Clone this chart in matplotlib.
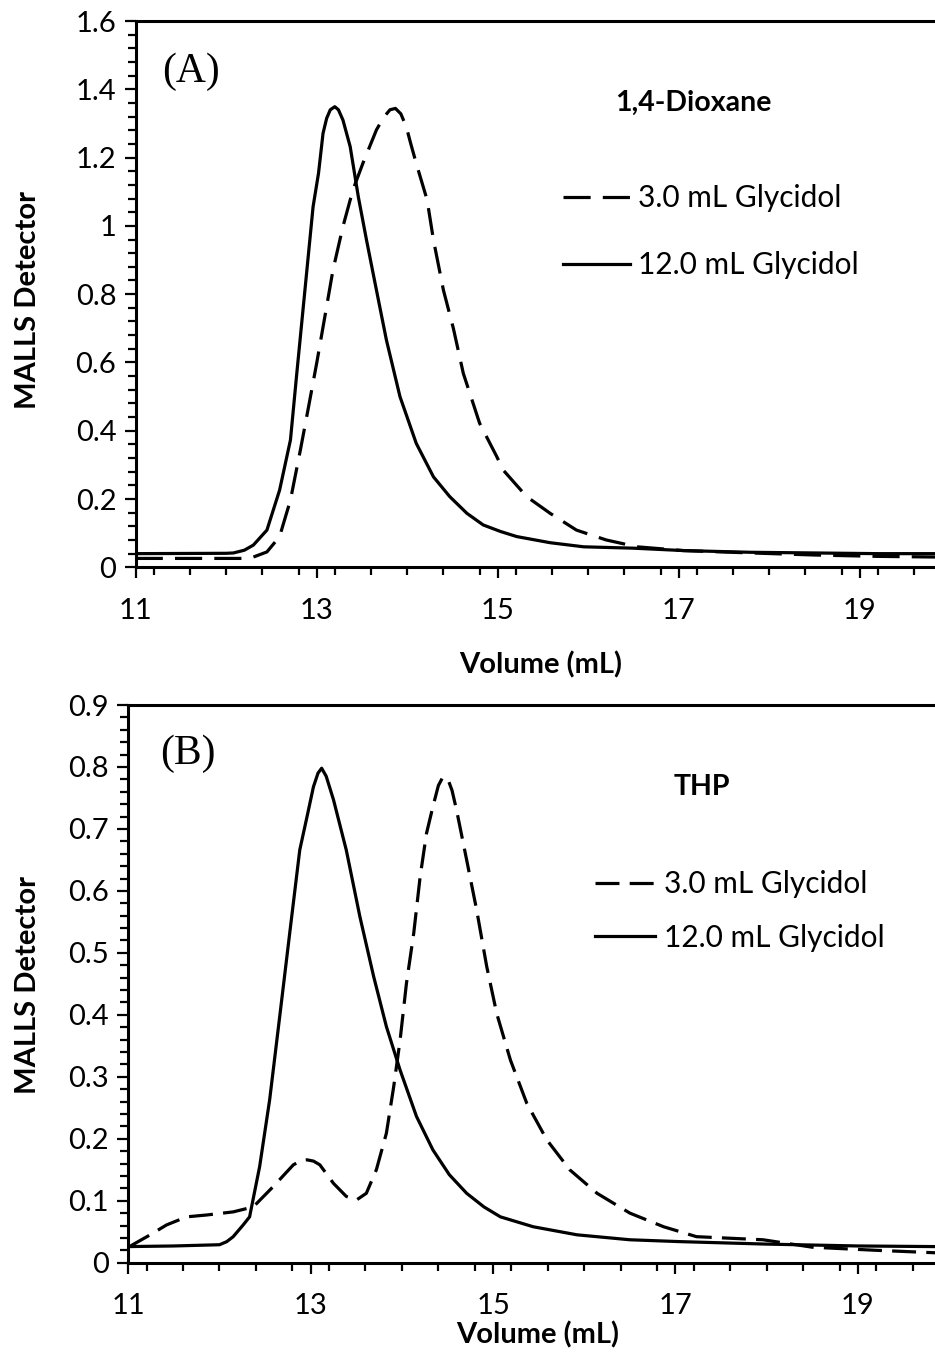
import matplotlib
matplotlib.use("Agg")
import matplotlib.pyplot as plt
from matplotlib.ticker import MultipleLocator

# ---------------- data ----------------
# Panel A (1,4-Dioxane)
a_solid_x = [11.0, 12.0, 12.08, 12.2, 12.3, 12.45, 12.59, 12.71, 12.78, 12.87, 12.96, 13.02, 13.07, 13.11, 13.15,
             13.2, 13.24, 13.29, 13.37, 13.46, 13.55, 13.66, 13.77, 13.92, 14.10, 14.29, 14.47, 14.66, 14.84,
             15.03, 15.21, 15.58, 15.95, 16.5, 17.05, 17.79, 18.5, 19.2, 19.85]
a_solid_y = [0.040, 0.041, 0.042, 0.050, 0.065, 0.109, 0.226, 0.373, 0.568, 0.812, 1.056, 1.154, 1.271, 1.315, 1.34,
             1.349, 1.34, 1.31, 1.232, 1.085, 0.959, 0.812, 0.666, 0.50, 0.363, 0.265, 0.207, 0.158, 0.124,
             0.105, 0.090, 0.072, 0.060, 0.056, 0.049, 0.044, 0.042, 0.040, 0.040]
a_dash_x = [11.0, 12.2, 12.3, 12.45, 12.59, 12.71, 12.82, 12.91, 13.0, 13.09, 13.18, 13.29, 13.40, 13.51, 13.66,
            13.74, 13.81, 13.87, 13.93, 13.99, 14.04, 14.10, 14.22, 14.29, 14.40, 14.51, 14.62, 14.80, 14.99,
            15.06, 15.32, 15.58, 15.87, 16.20, 16.54, 17.05, 17.8, 18.5, 19.2, 19.85]
a_dash_y = [0.026, 0.026, 0.030, 0.045, 0.090, 0.197, 0.344, 0.470, 0.598, 0.734, 0.871, 0.998, 1.105, 1.183, 1.281,
            1.318, 1.34, 1.344, 1.328, 1.29, 1.24, 1.183, 1.076, 0.959, 0.812, 0.700, 0.568, 0.422, 0.324,
            0.285, 0.207, 0.158, 0.109, 0.080, 0.060, 0.049, 0.042, 0.036, 0.032, 0.030]

# Panel B (THP)
b_solid_x = [11.0, 11.5, 12.0, 12.08, 12.15, 12.26, 12.33, 12.44, 12.55, 12.66, 12.77, 12.88, 12.96, 13.03, 13.08,
             13.12, 13.17, 13.25, 13.39, 13.54, 13.69, 13.83, 13.98, 14.16, 14.34, 14.52, 14.71, 14.9, 15.08,
             15.44, 15.92, 16.5, 17.05, 18.0, 19.0, 19.85]
b_solid_y = [0.026, 0.027, 0.029, 0.034, 0.042, 0.061, 0.074, 0.155, 0.263, 0.397, 0.532, 0.666, 0.72, 0.768, 0.79,
             0.798, 0.785, 0.747, 0.666, 0.558, 0.462, 0.381, 0.311, 0.236, 0.182, 0.142, 0.112, 0.090, 0.074,
             0.058, 0.045, 0.037, 0.034, 0.030, 0.027, 0.026]
b_dash_x = [11.0, 11.24, 11.42, 11.64, 11.86, 12.15, 12.37, 12.59, 12.81, 12.90, 12.96, 13.03, 13.10, 13.25, 13.39,
            13.50, 13.61, 13.72, 13.83, 13.91, 13.98, 14.05, 14.13, 14.20, 14.27, 14.34, 14.40, 14.45, 14.51,
            14.55, 14.60, 14.71, 14.82, 14.93, 15.04, 15.19, 15.37, 15.59, 15.84, 16.14, 16.50, 16.87, 17.23,
            17.96, 18.5, 19.2, 19.85]
b_dash_y = [0.025, 0.045, 0.061, 0.074, 0.077, 0.082, 0.090, 0.123, 0.158, 0.165, 0.166, 0.164, 0.158, 0.128, 0.107,
            0.101, 0.112, 0.150, 0.209, 0.284, 0.359, 0.451, 0.532, 0.623, 0.693, 0.736, 0.770, 0.784, 0.778,
            0.762, 0.730, 0.650, 0.569, 0.478, 0.402, 0.327, 0.257, 0.198, 0.150, 0.112, 0.080, 0.058, 0.042,
            0.037, 0.025, 0.020, 0.016]

series_labels = ["3.0 mL Glycidol", "12.0 mL Glycidol"]
x_ticks = [11, 13, 15, 17, 19]
panel_tags = ["(A)", "(B)"]
solvents = ["1,4-Dioxane", "THP"]
x_label = "Volume (mL)"
y_label = "MALLS Detector"

# ---------------- style ----------------
SANS = ["Lato", "DejaVu Sans"]
SERIF = ["Liberation Serif", "DejaVu Serif"]
FS = 21
W, H = 935, 1355
fig = plt.figure(figsize=(W / 100, H / 100), dpi=100)


def px_axes(left, right, bottom, top):
    return [left / W, 1 - bottom / H, (right - left) / W, (bottom - top) / H]


def style_axes(ax, ymax, ymajor, yminor):
    ax.set_ylim(0, ymax)
    ax.set_xticks(x_ticks)
    ax.xaxis.set_minor_locator(MultipleLocator(0.4))
    ax.yaxis.set_major_locator(MultipleLocator(ymajor))
    ax.yaxis.set_minor_locator(MultipleLocator(yminor))
    ax.spines["right"].set_visible(False)
    for s in ("left", "bottom", "top"):
        ax.spines[s].set_linewidth(2.2)
    ax.tick_params(which="major", direction="out", length=8, width=1.6, labelsize=FS, pad=6)
    ax.tick_params(which="minor", direction="out", length=5.5, width=1.6)
    ax.tick_params(axis="x", which="major", pad=14)
    ax.tick_params(top=False, which="both")
    for lab in ax.get_xticklabels() + ax.get_yticklabels():
        lab.set_family(SANS)
    ax.set_xlabel(x_label, fontsize=FS, fontweight="bold", family=SANS)
    ax.set_ylabel(y_label, fontsize=FS, fontweight="bold", family=SANS)


def fmt(v, pos):
    s = ("%.1f" % v)
    if s.endswith(".0"):
        s = s[:-2]
    return s


# ---------------- panel A ----------------
axA = fig.add_axes(px_axes(135.7, 935, 567.3, 21))
axA.set_xlim(11, 11 + (935 - 135.7) / 90.5)
lA1, = axA.plot(a_dash_x, a_dash_y, color="black", lw=2.3, dashes=(8.5, 3.8))
lA2, = axA.plot(a_solid_x, a_solid_y, color="black", lw=2.3)
style_axes(axA, 1.6, 0.2, 0.04)
axA.yaxis.set_major_formatter(plt.FuncFormatter(fmt))
axA.xaxis.set_label_coords(0.507, -0.178)
axA.xaxis.label.set_va("center")
axA.yaxis.set_label_coords(-0.1347, 0.489)
axA.yaxis.label.set_va("center")
axA.text(0.069, 0.907, panel_tags[0], transform=axA.transAxes, fontsize=30, family=SERIF,
         ha="center", va="center")
axA.text(0.697, 0.850, solvents[0], transform=axA.transAxes, fontsize=FS - 0.5, fontweight="bold",
         family=SANS, ha="center", va="center")
legA = axA.legend([lA1, lA2], series_labels, loc="center left", bbox_to_anchor=(0.5346, 0.614),
                  frameon=False, handlelength=2.25, handletextpad=0.25, labelspacing=1.3,
                  borderpad=0, borderaxespad=0, prop={"family": SANS, "size": FS + 0.5})

# ---------------- panel B ----------------
axB = fig.add_axes(px_axes(128.3, 935, 1262.7, 705))
axB.set_xlim(11, 11 + (935 - 128.3) / 91.2)
lB1, = axB.plot(b_dash_x, b_dash_y, color="black", lw=2.3, dashes=(7.5, 3.2))
lB2, = axB.plot(b_solid_x, b_solid_y, color="black", lw=2.3)
style_axes(axB, 0.9, 0.1, 0.02)
axB.yaxis.set_major_formatter(plt.FuncFormatter(fmt))
axB.xaxis.set_label_coords(0.507, -(1335 - 1262.7) / 557.7)
axB.xaxis.label.set_va("center")
axB.yaxis.set_label_coords(-0.1243, 0.498)
axB.yaxis.label.set_va("center")
axB.text(0.074, 0.912, panel_tags[1], transform=axB.transAxes, fontsize=30, family=SERIF,
         ha="center", va="center")
axB.text(0.711, 0.853, solvents[1], transform=axB.transAxes, fontsize=FS - 0.5, fontweight="bold",
         family=SANS, ha="center", va="center")
legB = axB.legend([lB1, lB2], series_labels, loc="center left",
                  bbox_to_anchor=((595 - 128.3) / 806.7, (1262.7 - 911) / 557.7),
                  frameon=False, handlelength=2.0, handletextpad=0.3, labelspacing=0.85,
                  borderpad=0, borderaxespad=0, prop={"family": SANS, "size": FS + 0.5})

fig.savefig("out.png", dpi=100)
